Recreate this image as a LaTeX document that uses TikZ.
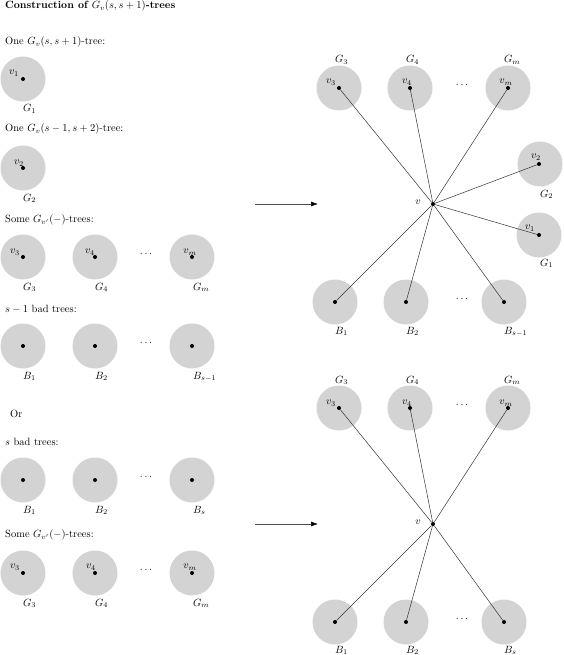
\documentclass[tikz,border=0pt]{standalone}
\usetikzlibrary{arrows.meta}
\definecolor{blobgray}{RGB}{211,211,211}
\begin{document}
\begin{tikzpicture}[x=1pt,y=-1pt,
  blob/.style={circle, fill=blobgray, minimum size=45pt, inner sep=0pt},
  dotv/.style={circle, fill=black, minimum size=4pt, inner sep=0pt},
  tscale/.style={scale=1.05, transform shape},
  glab/.style={anchor=base west, inner sep=0pt, tscale},
  vlab/.style={inner sep=0pt, tscale},
  elips/.style={inner sep=0pt, tscale},
  txt/.style={anchor=west, inner sep=0pt, tscale},
  edge/.style={draw=black!80, line width=0.5pt},
  bigarrow/.style={draw=black!70, line width=0.6pt, -{Latex[length=7pt,width=5pt,black]}}]
\useasboundingbox (0,0) rectangle (563,655);

% ---------- left column texts ----------
\node[txt] (t0) at (5,6) {\textbf{Construction of $G_v(s,s+1)$-trees}};
\node[txt] (t1) at (5,42) {One $G_v(s,s+1)$-tree:};
\node[txt] (t2) at (5,129) {One $G_v(s-1,s+2)$-tree:};
\node[txt] (t3) at (5,220) {Some $G_{v'}(-)$-trees:};
\node[txt] (t4) at (5,309) {$s-1$ bad trees:};
\node[txt] (t5) at (10,414) {Or};
\node[txt] (t6) at (5,442) {$s$ bad trees:};
\node[txt] (t7) at (5,535) {Some $G_{v'}(-)$-trees:};

% ---------- left: G1, G2 ----------
\node[blob] (LG1) at (23,79) {};
\node[dotv] (Ld1) at (23,79) {};
\node[vlab] at (14,73) {$v_1$};
\node[glab] at (23,112) {$G_1$};

\node[blob] (LG2) at (23,168) {};
\node[dotv] (Ld2) at (23,168) {};
\node[vlab] at (19,163) {$v_2$};
\node[glab] at (23,201) {$G_2$};

% ---------- left: G3..Gm row 1 ----------
\node[blob] (LaG3) at (23,257) {};
\node[blob] (LaG4) at (95,257) {};
\node[blob] (LaGm) at (192,257) {};
\node[dotv] (Lad3) at (23,257) {};
\node[dotv] (Lad4) at (95,257) {};
\node[dotv] (Ladm) at (192,257) {};
\node[vlab] at (15,252) {$v_3$};
\node[vlab] at (90,252) {$v_4$};
\node[vlab] at (190,252) {$v_m$};
\node[elips] (Lae) at (146,254) {$\cdots$};
\node[glab] at (23,290) {$G_3$};
\node[glab] at (95,290) {$G_4$};
\node[glab] at (193,290) {$G_m$};

% ---------- left: B row 1 ----------
\node[blob] (LaB1) at (23,346) {};
\node[blob] (LaB2) at (95,346) {};
\node[blob] (LaBs) at (192,346) {};
\node[dotv] (Lab1) at (23,346) {};
\node[dotv] (Lab2) at (95,346) {};
\node[dotv] (Labs) at (192,346) {};
\node[elips] (Lbe) at (146,343) {$\cdots$};
\node[glab] at (23,379) {$B_1$};
\node[glab] at (95,379) {$B_2$};
\node[glab] at (193,379) {$B_{s-1}$};

% ---------- left: B row 2 ----------
\node[blob] (LbB1) at (23,480) {};
\node[blob] (LbB2) at (95,480) {};
\node[blob] (LbBs) at (192,480) {};
\node[dotv] (Lbb1) at (23,480) {};
\node[dotv] (Lbb2) at (95,480) {};
\node[dotv] (Lbbs) at (192,480) {};
\node[elips] (Lce) at (146,477) {$\cdots$};
\node[glab] at (23,513) {$B_1$};
\node[glab] at (95,513) {$B_2$};
\node[glab] at (193,513) {$B_s$};

% ---------- left: G row 2 ----------
\node[blob] (LbG3) at (23,573) {};
\node[blob] (LbG4) at (95,573) {};
\node[blob] (LbGm) at (192,573) {};
\node[dotv] (Lbd3) at (23,573) {};
\node[dotv] (Lbd4) at (95,573) {};
\node[dotv] (Lbdm) at (192,573) {};
\node[vlab] at (15,567) {$v_3$};
\node[vlab] at (91,567) {$v_4$};
\node[vlab] at (190,567) {$v_m$};
\node[elips] (Lde) at (146,570) {$\cdots$};
\node[glab] at (23,606) {$G_3$};
\node[glab] at (95,606) {$G_4$};
\node[glab] at (193,606) {$G_m$};

% ---------- arrows ----------
\coordinate (a1s) at (255,204);
\coordinate (a1e) at (318,204);
\coordinate (a2s) at (255,524);
\coordinate (a2e) at (318,524);
\draw[bigarrow] (a1s) -- (a1e);
\draw[bigarrow] (a2s) -- (a2e);

% ---------- right top ----------
\node[blob] (RaG3) at (339,88) {};
\node[blob] (RaG4) at (410,88) {};
\node[blob] (RaGm) at (508,88) {};
\node[blob] (RaG2) at (540,164) {};
\node[blob] (RaG1) at (539,235) {};
\node[blob] (RaB1) at (335,302) {};
\node[blob] (RaB2) at (406,302) {};
\node[blob] (RaBs) at (504,302) {};

\node[dotv] (Rad3) at (339,88) {};
\node[dotv] (Rad4) at (410,88) {};
\node[dotv] (Radm) at (508,88) {};
\node[dotv] (Rad2) at (539,164) {};
\node[dotv] (Rad1) at (539,235) {};
\node[dotv] (Rab1) at (335,302) {};
\node[dotv] (Rab2) at (406,302) {};
\node[dotv] (Rabs) at (504,302) {};
\node[dotv] (Rav) at (433,204) {};

\foreach \t in {Rad3,Rad4,Radm,Rad2,Rad1,Rab1,Rab2,Rabs}
  \draw[edge] (Rav) -- (\t);

\node[vlab] at (331,82) {$v_3$};
\node[vlab] at (407,82) {$v_4$};
\node[vlab] at (506,82) {$v_m$};
\node[vlab] at (536,157) {$v_2$};
\node[vlab] at (530,228) {$v_1$};
\node[vlab] at (418,202) {$v$};
\node[elips] (Rae) at (462,85) {$\cdots$};
\node[elips] (Rbe) at (462,299) {$\cdots$};
\node[glab] at (335,63) {$G_3$};
\node[glab] at (406,63) {$G_4$};
\node[glab] at (504,63) {$G_m$};
\node[glab] at (540,197) {$G_2$};
\node[glab] at (540,266) {$G_1$};
\node[glab] at (335,334) {$B_1$};
\node[glab] at (406,334) {$B_2$};
\node[glab] at (504,334) {$B_{s-1}$};

% ---------- right bottom ----------
\node[blob] (RbG3) at (339,408) {};
\node[blob] (RbG4) at (410,408) {};
\node[blob] (RbGm) at (508,408) {};
\node[blob] (RbB1) at (335,622) {};
\node[blob] (RbB2) at (406,622) {};
\node[blob] (RbBs) at (504,622) {};

\node[dotv] (Rbd3) at (339,408) {};
\node[dotv] (Rbd4) at (410,408) {};
\node[dotv] (Rbdm) at (508,408) {};
\node[dotv] (Rbb1) at (335,622) {};
\node[dotv] (Rbb2) at (406,622) {};
\node[dotv] (Rbbs) at (504,622) {};
\node[dotv] (Rbv) at (433,524) {};

\foreach \t in {Rbd3,Rbd4,Rbdm,Rbb1,Rbb2,Rbbs}
  \draw[edge] (Rbv) -- (\t);

\node[vlab] at (331,403) {$v_3$};
\node[vlab] at (407,403) {$v_4$};
\node[vlab] at (506,403) {$v_m$};
\node[vlab] at (418,522) {$v$};
\node[elips] (Rce) at (462,405) {$\cdots$};
\node[elips] (Rde) at (462,619) {$\cdots$};
\node[glab] at (335,383) {$G_3$};
\node[glab] at (406,383) {$G_4$};
\node[glab] at (504,383) {$G_m$};
\node[glab] at (335,653) {$B_1$};
\node[glab] at (406,653) {$B_2$};
\node[glab] at (504,653) {$B_s$};
\end{tikzpicture}
\end{document}
